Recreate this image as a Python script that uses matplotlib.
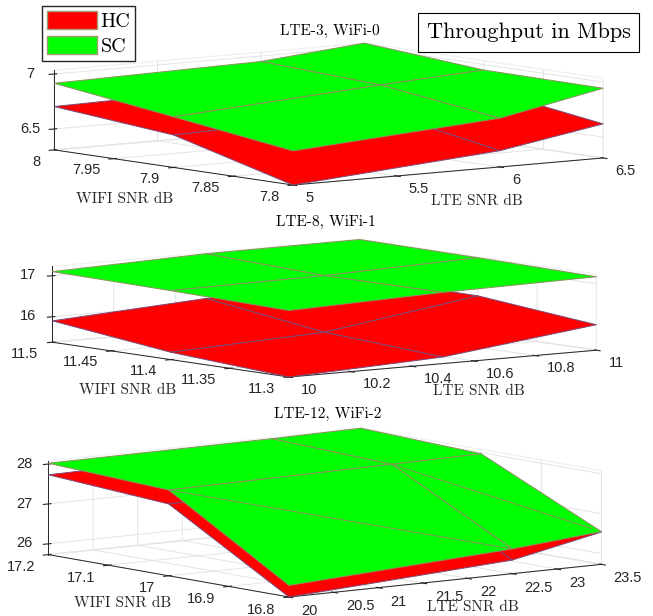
import matplotlib
matplotlib.use('Agg')
import matplotlib.pyplot as plt
from matplotlib.patches import Patch, Rectangle
from mpl_toolkits.mplot3d import proj3d
import numpy as np

W, H = 653, 616

plt.rcParams['font.family'] = ['Liberation Sans', 'DejaVu Sans']
plt.rcParams['grid.color'] = '#e4e4e4'
plt.rcParams['grid.linewidth'] = 0.7
plt.rcParams['axes.unicode_minus'] = False

TEXT_FONT = ['cmr10', 'DejaVu Serif']

# rows are WiFi SNR (low to high), columns are LTE SNR
lte_1 = [5, 6, 6.5]
wifi_1 = [7.8, 7.9, 8]
hc_1 = [[6.31, 6.458, 6.62],
        [6.605, 6.654, 6.78],
        [6.704, 6.737, 6.80]]
sc_1 = [[6.62, 6.753, 6.944],
        [6.77, 6.896, 6.95],
        [6.916, 6.95, 7.035]]
lte_ticks_1 = [5, 5.5, 6, 6.5]
wifi_ticks_1 = [7.8, 7.85, 7.9, 7.95, 8]
z_ticks_1 = [6.5, 7]

lte_2 = [10, 10.5, 11]
wifi_2 = [11.3, 11.4, 11.5]
hc_2 = [[15.38, 15.54, 16.0],
        [15.56, 15.72, 16.28],
        [15.90, 16.12, 16.30]]
sc_2 = [[17.0, 17.115, 17.17],
        [17.06, 17.10, 17.21],
        [17.10, 17.21, 17.23]]
lte_ticks_2 = [10, 10.2, 10.4, 10.6, 10.8, 11]
wifi_ticks_2 = [11.3, 11.35, 11.4, 11.45, 11.5]
z_ticks_2 = [16, 17]

lte_3 = [20, 22.5, 23.5]
wifi_3 = [16.8, 17, 17.2]
hc_3 = [[25.73, 26.07, 26.54],
        [27.53, 27.70, 27.75],
        [27.73, 27.80, 27.85]]
sc_3 = [[26.02, 26.35, 26.55],
        [27.88, 27.94, 27.97],
        [28.02, 28.05, 28.08]]
lte_ticks_3 = [20, 20.5, 21, 21.5, 22, 22.5, 23, 23.5]
wifi_ticks_3 = [16.8, 16.9, 17, 17.1, 17.2]
z_ticks_3 = [26, 27, 28]


def place_box(ax, left, right, front):
    # size and shift the square axes so the floor corners land on given pixels
    size = 600.0
    ax.set_position([0, 0, size / W, size / H])
    xl, xr = ax.get_xlim3d()
    yl, yr = ax.get_ylim3d()
    zl = ax.get_zlim3d()[0]
    M = ax.get_proj()
    corners = [(xl, yr, zl), (xr, yl, zl), (xl, yl, zl)]
    uv = [proj3d.proj_transform(c[0], c[1], c[2], M)[:2] for c in corners]
    px = ax.transData.transform(uv)
    size *= (right - left) / (px[1, 0] - px[0, 0])
    ax.set_position([0, 0, size / W, size / H])
    px = ax.transData.transform(uv)
    x0 = front[0] - px[2, 0]
    y0 = (H - front[1]) - px[2, 1]
    ax.set_position([x0 / W, y0 / H, size / W, size / H])


def draw_panel(lte, wifi, hc, sc, lte_ticks, wifi_ticks, z_ticks, elev, height,
               left, right, front, title, title_xy, wifi_xy, lte_xy):
    ax = fig.add_axes([0, 0, 0.5, 0.5], projection='3d', computed_zorder=False,
                      proj_type='ortho')
    ax.set_facecolor('none')
    ax.view_init(elev=elev, azim=-127.6)
    ax.set_box_aspect((1, 1, height))

    X, Y = np.meshgrid(lte, wifi)
    red = ax.plot_surface(X, Y, np.array(hc), color='#ff0000', edgecolor='#7a4a78',
                          linewidth=0.7, shade=False, rstride=1, cstride=1)
    green = ax.plot_surface(X, Y, np.array(sc), color='#00ff00', edgecolor='#8a9060',
                            linewidth=0.7, shade=False, rstride=1, cstride=1)
    red.set_clip_on(False)
    green.set_clip_on(False)

    ax.set_xlim(lte[0], lte[-1])
    ax.set_ylim(wifi[0], wifi[-1])
    ax.set_zlim(min(np.min(hc), np.min(sc)), max(np.max(hc), np.max(sc)))
    ax.set_xticks(lte_ticks, labels=[f'{v:g}' for v in lte_ticks], ha='left')
    ax.set_yticks(wifi_ticks, labels=[f'{v:g}' for v in wifi_ticks], ha='right')
    ax.set_zticks(z_ticks, labels=[f'{v:g}' for v in z_ticks], va='center')
    ax.tick_params(labelsize=10.5, colors='#262626')
    ax.tick_params(axis='x', pad=2.5)
    ax.tick_params(axis='y', pad=1)
    ax.tick_params(axis='z', pad=1)

    for axis in (ax.xaxis, ax.yaxis, ax.zaxis):
        axis.pane.set_facecolor('none')
        axis.pane.set_edgecolor('#e4e4e4')
        axis.line.set_color('#262626')
        axis.line.set_linewidth(0.7)

    place_box(ax, left, right, front)

    fig.text(title_xy[0] / W, 1 - title_xy[1] / H, title, family=TEXT_FONT,
             fontsize=11, ha='center', va='center')
    fig.text(wifi_xy[0] / W, 1 - wifi_xy[1] / H, 'WIFI SNR dB', family=TEXT_FONT,
             fontsize=11, ha='center', va='center', color='#262626')
    fig.text(lte_xy[0] / W, 1 - lte_xy[1] / H, 'LTE SNR dB', family=TEXT_FONT,
             fontsize=11, ha='center', va='center', color='#262626')
    return ax


fig = plt.figure(figsize=(W / 100, H / 100), dpi=100)

draw_panel(lte_1, wifi_1, hc_1, sc_1, lte_ticks_1, wifi_ticks_1, z_ticks_1,
           6.5, 0.205, 54, 603, (293, 185), 'LTE-3, WiFi-0', (330, 31),
           (125, 199), (477, 201))
draw_panel(lte_2, wifi_2, hc_2, sc_2, lte_ticks_2, wifi_ticks_2, z_ticks_2,
           6.5, 0.197, 54, 598, (289, 377), 'LTE-8, WiFi-1', (326, 222),
           (128, 390), (479, 391))
ax3 = draw_panel(lte_3, wifi_3, hc_3, sc_3, lte_ticks_3, wifi_ticks_3, z_ticks_3,
                 7.8, 0.24, 52, 605, (289, 597), 'LTE-12, WiFi-2', (328, 414),
                 (123, 603), (473, 607))

# two extra triangle edges on the green surface of the last panel
ax3.plot([lte_3[0], lte_3[1]], [wifi_3[1], wifi_3[0]], [sc_3[1][0], sc_3[0][1]],
         color='#8a9060', linewidth=0.7)
ax3.plot([lte_3[1], lte_3[2]], [wifi_3[1], wifi_3[0]], [sc_3[1][1], sc_3[0][2]],
         color='#8a9060', linewidth=0.7)

handles = [Patch(facecolor='#ff0000', edgecolor='#a09a70', label='HC'),
           Patch(facecolor='#00ff00', edgecolor='#a09a70', label='SC')]
fig.legend(handles=handles, loc='upper left', bbox_to_anchor=(42 / W, 1 - 6 / H),
           borderaxespad=0, fancybox=False, edgecolor='#262626', framealpha=1,
           prop={'family': TEXT_FONT, 'size': 14.5}, handlelength=2.5, handleheight=1.0,
           handletextpad=0.15, labelspacing=0.25, borderpad=0.25)

fig.add_artist(Rectangle((418 / W, 1 - 52 / H), 221 / W, 39 / H, transform=fig.transFigure,
                         facecolor='white', edgecolor='black', linewidth=0.8))
fig.text(528.5 / W, 1 - 32 / H, 'Throughput in Mbps', family=TEXT_FONT, fontsize=16,
         ha='center', va='center')

fig.savefig('out.png', dpi=100)
